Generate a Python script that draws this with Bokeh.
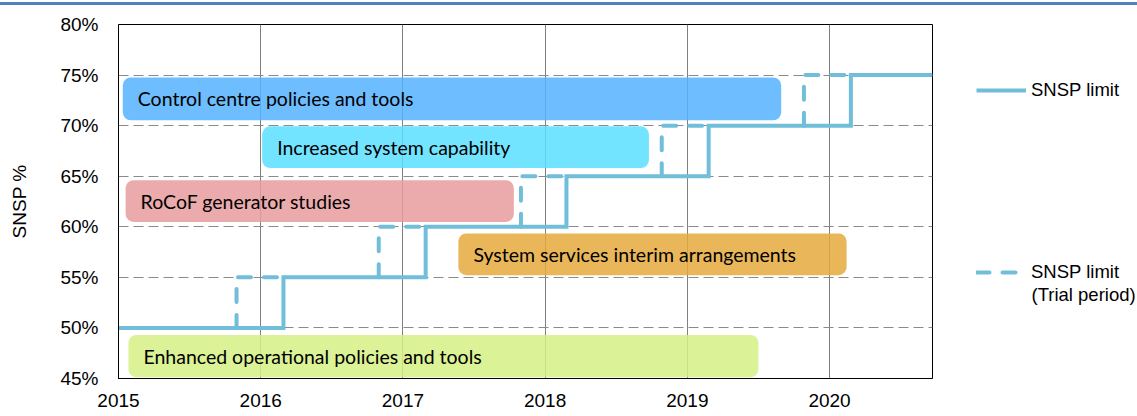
from bokeh.plotting import figure
from bokeh.models import (Legend, LegendItem, Label, FixedTicker, Range1d,
                          PrintfTickFormatter, Div, ColumnDataSource)
from bokeh.layouts import column, row
from bokeh.core.properties import value
from bokeh.embed import file_html
from bokeh.resources import INLINE

# ---------------- data ----------------
years = [2015, 2016, 2017, 2018, 2019, 2020]
y_ticks = [45, 50, 55, 60, 65, 70, 75, 80]
x_end = 2020.724

tasks = ["Control centre policies and tools",
         "Increased system capability",
         "RoCoF generator studies",
         "System services interim arrangements",
         "Enhanced operational policies and tools"]
task_start = [2015.03, 2016.01, 2015.05, 2017.39, 2015.07]
task_end = [2019.66, 2018.73, 2017.78, 2020.12, 2019.50]
task_low = [70.53, 65.81, 60.48, 55.22, 45.12]
task_high = [74.77, 69.93, 64.60, 59.34, 49.30]
task_colors = ["#54B2FF", "#5ADFFF", "#E89B9D", "#E5AA3D", "#D5F084"]

limit_levels = [50, 55, 60, 65, 70, 75]
limit_change = [2016.16, 2017.16, 2018.15, 2019.15, 2020.15]
trial_start = [2015.83, 2016.83, 2017.83, 2018.82, 2019.82]

# ---------------- derived paths ----------------
solid_x = [years[0]]
solid_y = [limit_levels[0]]
for i, c in enumerate(limit_change):
    solid_x += [c, c]
    solid_y += [limit_levels[i], limit_levels[i + 1]]
solid_x.append(x_end)
solid_y.append(limit_levels[-1])

trial_xs = [[t, t, c] for t, c in zip(trial_start, limit_change)]
trial_ys = [[limit_levels[i], limit_levels[i + 1], limit_levels[i + 1]]
            for i in range(len(trial_start))]

SANS = "Liberation Sans"
LINE_COLOR = "#70BEDA"
H = 410

p = figure(width=933, height=H, x_range=Range1d(years[0], x_end),
           y_range=Range1d(45, 80), output_backend="svg",
           toolbar_location=None, title=None,
           min_border_left=118, min_border_right=1,
           min_border_top=19, min_border_bottom=37)
p.outline_line_color = "black"
p.outline_line_width = 1

# axes
for ax in (p.xaxis[0], p.yaxis[0]):
    ax.axis_line_color = "black"
    ax.axis_line_width = 1
    ax.major_tick_in = 0
    ax.major_tick_out = 0
    ax.minor_tick_in = 0
    ax.minor_tick_out = 0
    ax.major_label_text_font = SANS
    ax.major_label_text_font_size = "19px"
    ax.major_label_text_color = "black"
p.xaxis.ticker = FixedTicker(ticks=years)
p.xaxis.formatter = PrintfTickFormatter(format="%d")
p.xaxis.major_label_standoff = 15
p.yaxis.ticker = FixedTicker(ticks=y_ticks)
p.yaxis.formatter = PrintfTickFormatter(format="%d%%")
p.yaxis.major_label_standoff = 20
p.yaxis.axis_label = "SNSP %"
p.yaxis.axis_label_text_font = SANS
p.yaxis.axis_label_text_font_size = "19px"
p.yaxis.axis_label_text_font_style = "normal"
p.yaxis.axis_label_text_color = "black"
p.yaxis.axis_label_standoff = 27

# grids
p.xgrid.ticker = FixedTicker(ticks=years)
p.xgrid.grid_line_color = "#808080"
p.xgrid.grid_line_width = 1
p.ygrid.ticker = FixedTicker(ticks=y_ticks)
p.ygrid.grid_line_color = "#8A8A8A"
p.ygrid.grid_line_dash = "10 5"
p.ygrid.grid_line_width = 1

# task bars
src = ColumnDataSource(dict(left=task_start, right=task_end, bottom=task_low,
                            top=task_high, color=task_colors, name=tasks,
                            mid=[(a + b) / 2 for a, b in zip(task_low, task_high)]))
p.quad(left="left", right="right", bottom="bottom", top="top", source=src,
       fill_color="color", fill_alpha=0.85, line_color=None, border_radius=8)
p.text(x="left", y="mid", text="name", source=src, x_offset=15,
       text_baseline="middle", text_align="left", text_color="black",
       text_font=value("Lato"), text_font_size="19.5px")

# SNSP lines
p.line(solid_x, solid_y, line_color=LINE_COLOR, line_width=4,
       line_join="miter")
p.multi_line(trial_xs, trial_ys, line_color=LINE_COLOR, line_width=4,
             line_dash="13 13", line_cap="round")

# ---------------- legend panel ----------------
lf = figure(width=1137 - 933, height=H, output_backend="svg",
            toolbar_location=None, title=None,
            x_axis_location=None, y_axis_location=None,
            x_range=Range1d(0, 1), y_range=Range1d(0, 1),
            min_border=0, min_border_left=0, min_border_right=0,
            min_border_top=0, min_border_bottom=0)
lf.grid.visible = False
lf.outline_line_color = None
# same series (outside this panel's ranges) so the legend can draw their glyphs
r_solid = lf.line(solid_x, solid_y, line_color=LINE_COLOR, line_width=4)
r_trial = lf.multi_line(trial_xs, trial_ys, line_color=LINE_COLOR,
                        line_width=4, line_dash="13 13", line_cap="round")

leg1 = Legend(items=[LegendItem(label="SNSP limit", renderers=[r_solid])],
              location=(43, 275))
leg2 = Legend(items=[LegendItem(label="SNSP limit", renderers=[r_trial])],
              location=(43, 93))
for lg in (leg1, leg2):
    lg.padding = 0
    lg.margin = 0
    lg.spacing = 0
    lg.glyph_width = 50
    lg.glyph_height = 26
    lg.label_height = 26
    lg.label_standoff = 5
    lg.border_line_alpha = 0
    lg.background_fill_alpha = 0
    lg.label_text_font = SANS
    lg.label_text_font_size = "18.5px"
    lg.label_text_color = "black"
    lf.add_layout(lg, "center")

lf.add_layout(Label(x=98, y=84, x_units="screen", y_units="screen",
                    text="(Trial period)", text_font=SANS,
                    text_font_size="18.5px", text_color="black",
                    text_baseline="alphabetic", text_align="left"))

bar = Div(text="", width=1137, height=3, margin=0,
          styles={"background-color": "#4F81BD"})
layout = column(bar, row(p, lf, spacing=0, margin=0), spacing=0,
                margin=(2, 0, 0, 0))

open("out.html", "w").write(file_html(layout, INLINE))
